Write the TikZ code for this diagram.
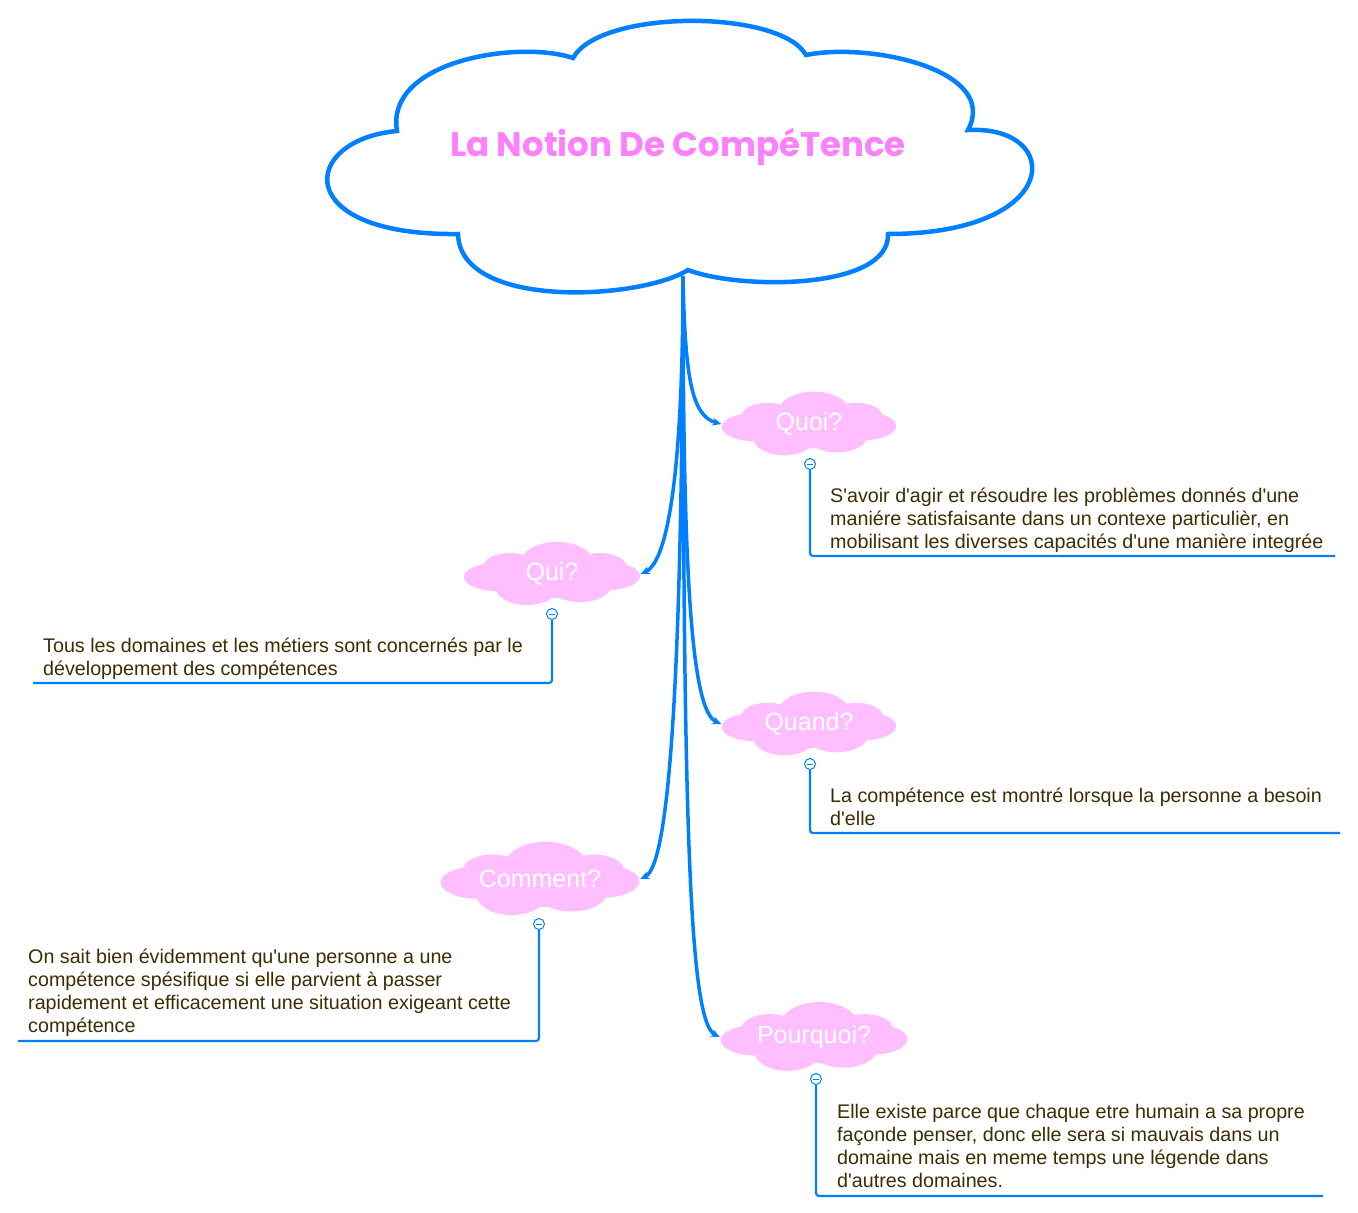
\documentclass[tikz,border=0pt]{standalone}
\usepackage{fontspec}
\newfontfamily\notefont{Liberation Sans}
\newfontfamily\titlefont{Poppins}
\usetikzlibrary{arrows.meta, calc}

\definecolor{linkblue}{RGB}{0,128,255}
\definecolor{bubblepink}{RGB}{255,190,255}
\definecolor{titlepink}{RGB}{255,128,255}
\definecolor{notebrown}{RGB}{60,45,0}

% pink cloud: centre x, centre y, xscale, yscale
\newcommand{\pinkcloud}[4]{%
  \begin{scope}[shift={(#1,#2)}, xscale=#3, yscale=#4]
    \fill[bubblepink] (0,-2) ellipse (70 and 22);
    \fill[bubblepink] (-55,-3) ellipse (33 and 14);
    \fill[bubblepink] (55,-2) ellipse (33 and 14);
    \fill[bubblepink] (-42,8) ellipse (26 and 13);
    \fill[bubblepink] (5,12) ellipse (36 and 20);
    \fill[bubblepink] (48,8) ellipse (26 and 13);
    \fill[bubblepink] (-25,-14) ellipse (31 and 17);
    \fill[bubblepink] (28,-12) ellipse (31 and 16);
  \end{scope}}

\begin{document}
\begin{tikzpicture}[x=1pt, y=1pt,
    link/.style={linkblue, line width=3.5pt, -{Stealth[length=9pt,width=8pt]}},
    leaf/.style={linkblue, line width=2.2pt, rounded corners=3pt},
    bubble/.style={inner sep=0pt, text=white, font=\notefont\fontsize{25}{30}\selectfont},
    note/.style={anchor=north west, inner sep=0pt, align=left, text=notebrown,
      font=\notefont\fontsize{19.7}{23}\selectfont, execute at begin node=\strut},
    toggle/.style={circle, draw=linkblue, fill=white, line width=1pt, inner sep=0pt,
      minimum size=11pt, path picture={\draw[linkblue, line width=1pt]
        ([xshift=-3pt]path picture bounding box.center) -- ([xshift=3pt]path picture bounding box.center);}}]
    \useasboundingbox (0,0) rectangle (1358,-1213);
    % Central cloud
    \draw[linkblue, line width=4.5pt, fill=white]
      (397,-131) .. controls (385,-60) and (520,-40) .. (573,-58)
      .. controls (600,-9) and (780,-9) .. (806,-55)
      .. controls (870,-42) and (1000,-70) .. (968,-130)
      .. controls (1064,-125) and (1064,-234) .. (888,-234)
      .. controls (890,-290) and (740,-290) .. (688,-270)
      .. controls (640,-300) and (460,-310) .. (458,-234)
      .. controls (290,-236) and (300,-140) .. (397,-131) -- cycle;
    \node[text=titlepink, font=\titlefont\bfseries\fontsize{34}{40}\selectfont] (title) at (678,-147) {La Notion De CompéTence};
    \coordinate (root) at (683,-276);
    % Branch clouds
    \pinkcloud{809}{-424}{0.99}{1.01}
    \node[bubble, minimum width=175pt, minimum height=68pt] (quoi) at (809,-424) {Quoi?};
    \pinkcloud{552}{-574}{1}{1}
    \node[bubble, minimum width=177pt, minimum height=67pt] (qui) at (552,-574) {Qui?};
    \pinkcloud{809}{-724}{0.99}{1.01}
    \node[bubble, minimum width=175pt, minimum height=68pt] (quand) at (809,-724) {Quand?};
    \pinkcloud{540}{-879}{1.13}{1.16}
    \node[bubble, minimum width=200pt, minimum height=78pt] (comment) at (540,-879) {Comment?};
    \pinkcloud{814}{-1037}{1.06}{1.09}
    \node[bubble, minimum width=188pt, minimum height=73pt] (pourquoi) at (814,-1037) {Pourquoi?};
    % Links from the central cloud
    \draw[link] (root) .. controls +(2,-100) and +(-30,8) .. (quoi.west);
    \draw[link] (root) .. controls +(0,-190) and +(28,13) .. (qui.east);
    \draw[link] (root) .. controls +(0,-300) and +(-30,13) .. (quand.west);
    \draw[link] (root) .. controls +(-1,-420) and +(28,13) .. (comment.east);
    \draw[link] (root) .. controls +(0,-560) and +(-30,15) .. (pourquoi.west);
    % Toggles
    \node[toggle] (quoitg) at (810,-464) {};
    \node[toggle] (quitg) at (552,-614) {};
    \node[toggle] (quandtg) at (810,-764) {};
    \node[toggle] (commenttg) at (539,-924) {};
    \node[toggle] (pourquoitg) at (816,-1079) {};
    % Leaf lines
    \coordinate (quoiend) at (1335,-556);
    \coordinate (quiend) at (33,-683);
    \coordinate (quandend) at (1340,-833);
    \coordinate (commentend) at (18,-1041);
    \coordinate (pourquoiend) at (1323,-1196);
    \draw[leaf] (quoi.south -| quoitg) -- (quoitg.north);
    \draw[leaf] (quoitg.south) |- (quoiend);
    \draw[leaf] (qui.south -| quitg) -- (quitg.north);
    \draw[leaf] (quitg.south) |- (quiend);
    \draw[leaf] (quand.south -| quandtg) -- (quandtg.north);
    \draw[leaf] (quandtg.south) |- (quandend);
    \draw[leaf] (comment.south -| commenttg) -- (commenttg.north);
    \draw[leaf] (commenttg.south) |- (commentend);
    \draw[leaf] (pourquoi.south -| pourquoitg) -- (pourquoitg.north);
    \draw[leaf] (pourquoitg.south) |- (pourquoiend);
    % Notes
    \node[note] (quoitxt) at (830,-488) {S'avoir d'agir et résoudre les problèmes donnés d'une\\maniére satisfaisante dans un contexe particulièr, en\\mobilisant les diverses capacités d'une manière integrée};
    \node[note] (quitxt) at (43,-638) {Tous les domaines et les métiers sont concernés par le\\développement des compétences};
    \node[note] (quandtxt) at (830,-788) {La compétence est montré lorsque la personne a besoin\\d'elle};
    \node[note] (commenttxt) at (28,-949) {On sait bien évidemment qu'une personne a une\\compétence spésifique si elle parvient à passer\\rapidement et efficacement une situation exigeant cette\\compétence};
    \node[note] (pourquoitxt) at (837,-1104) {Elle existe parce que chaque etre humain a sa propre\\façonde penser, donc elle sera si mauvais dans un\\domaine mais en meme temps une légende dans\\d'autres domaines.};
\end{tikzpicture}
\end{document}
